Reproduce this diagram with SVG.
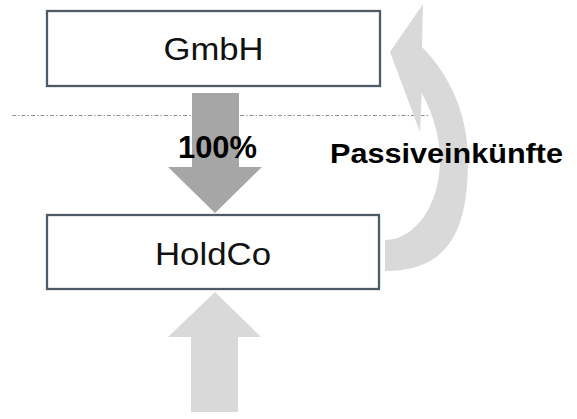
<svg xmlns="http://www.w3.org/2000/svg" width="577" height="419" viewBox="0 0 577 419">
<style>
.box{fill:#ffffff;stroke:#4e5a65;stroke-width:2.3}
.lbl{font-family:"Liberation Sans",Arial,sans-serif;font-size:32px;fill:#111111;text-anchor:middle}
.bold{font-family:"Liberation Sans",Arial,sans-serif;font-weight:bold;fill:#000000}
.light{fill:#d9d9d9}
.dark{fill:#a6a6a6}
.sep{stroke:#8f8f8f;stroke-width:1;stroke-dasharray:4 2 1.5 2;fill:none}
</style>
<rect width="577" height="419" fill="#ffffff"/>
<line class="sep" x1="12" y1="115.5" x2="430" y2="115.5"/>
<g id="connectors">
  <path id="arrow-100" class="dark" d="M192,93 H239 V167 H262 L215,213 L168,167 H192 Z"/>
  <path id="arrow-up" class="light" d="M191,412 V337 H168 L215,292 L261,337 H238 V412 Z"/>
  <path id="arrow-curved" class="light" d="M423,4 L390,52 L420,132 L421.7,93 C434,115 440,140 440,160 C440,205 415,240 385,240 L385,271 C448,271 468,232 468,160 C468,115 450,75 422,47 Z"/>
</g>
<g id="node-gmbh">
  <rect class="box" x="47" y="11" width="333" height="75"/>
  <text class="lbl" x="213.5" y="60" textLength="100" lengthAdjust="spacingAndGlyphs">GmbH</text>
</g>
<g id="node-holdco">
  <rect class="box" x="47" y="215" width="332" height="74"/>
  <text class="lbl" x="213" y="265" textLength="116" lengthAdjust="spacingAndGlyphs">HoldCo</text>
</g>
<g id="labels">
  <text class="bold" x="217.5" y="158" font-size="32" text-anchor="middle" textLength="79" lengthAdjust="spacingAndGlyphs">100%</text>
  <text class="bold" x="330" y="163" font-size="28" textLength="233" lengthAdjust="spacingAndGlyphs">Passiveinkünfte</text>
</g>
</svg>
